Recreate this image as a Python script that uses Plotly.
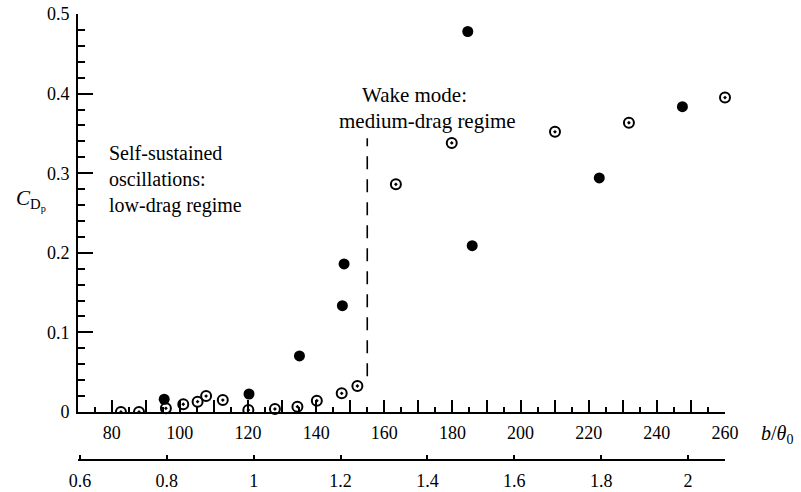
import numpy as np
import plotly.graph_objects as go

# ---- data ----
filled_x = [95.4, 120.3, 135.1, 147.7, 148.2, 184.5, 185.8, 223.1, 247.5]
filled_y = [0.016, 0.0226, 0.0704, 0.1335, 0.186, 0.478, 0.209, 0.294, 0.3835]

open_x = [82.7, 88.0, 95.9, 101.0, 105.2, 107.7, 112.6, 120.1, 127.9, 134.5,
          140.2, 147.5, 152.1, 163.4, 179.8, 210.1, 231.8, 260.0]
open_y = [0.0, 0.0, 0.0046, 0.0097, 0.013, 0.020, 0.015, 0.0025, 0.0038, 0.0067,
          0.0142, 0.0235, 0.0327, 0.286, 0.338, 0.352, 0.3634, 0.395]

divider_x = [155.0, 155.0]
divider_y = [0.045, 0.344]

x_tickvals = [80, 90, 100, 110, 120, 130, 140, 150, 160, 170, 180, 190, 200,
              210, 220, 230, 240, 250, 260]
x_ticktext = ["80", "", "100", "", "120", "", "140", "", "160", "", "180", "",
              "200", "", "220", "", "240", "", "260"]
y_tickvals = [0, 0.1, 0.2, 0.3, 0.4, 0.5]
y_ticktext = ["0", "0.1", "0.2", "0.3", "0.4", "0.5"]
x2_tickvals = [0.6, 0.8, 1.0, 1.2, 1.4, 1.6, 1.8, 2.0]
x2_ticktext = ["0.6", "0.8", "1", "1.2", "1.4", "1.6", "1.8", "2"]

FONT = "Liberation Serif"
W, H = 801, 492
ML, MR, MT, MB = 78, 76, 14, 32
PW, PH = W - ML - MR, H - MT - MB
AXIS_BOTTOM_PX = 412  # pixel row of the main x axis


def px_x(px):
    return (px - ML) / PW


def px_y(py):
    return (H - MB - py) / PH


ox = np.array(open_x)
oy = np.array(open_y)
on_axis = oy < 0.003

fig = go.Figure()

fig.add_trace(go.Scatter(
    x=divider_x, y=divider_y, mode="lines",
    line=dict(color="black", width=1.6, dash="13px,10px"),
    hoverinfo="skip", showlegend=False))

fig.add_trace(go.Scatter(
    x=ox[on_axis], y=oy[on_axis], mode="markers", cliponaxis=True,
    marker=dict(symbol="circle-open-dot", size=10, color="black",
                line=dict(color="black", width=2)),
    showlegend=False))
fig.add_trace(go.Scatter(
    x=ox[~on_axis], y=oy[~on_axis], mode="markers", cliponaxis=False,
    marker=dict(symbol="circle-open-dot", size=10, color="black",
                line=dict(color="black", width=2)),
    showlegend=False))
fig.add_trace(go.Scatter(
    x=filled_x, y=filled_y, mode="markers", cliponaxis=False,
    marker=dict(symbol="circle", size=11, color="black"),
    showlegend=False))

# invisible trace so the second (lower) x axis is drawn
fig.add_trace(go.Scatter(
    x=[1.0], y=[-1], xaxis="x2", yaxis="y", mode="markers",
    marker=dict(opacity=0), hoverinfo="skip", showlegend=False))

tickfont = dict(family=FONT, size=18, color="black")
ydom0 = (H - MB - AXIS_BOTTOM_PX) / PH

fig.update_layout(
    width=W, height=H,
    margin=dict(l=ML, r=MR, t=MT, b=MB, autoexpand=False),
    paper_bgcolor="white", plot_bgcolor="rgba(0,0,0,0)",
    xaxis=dict(range=[70.1, 260], domain=[0, 1], anchor="y", automargin=False,
               showline=True, linecolor="black", linewidth=2,
               showgrid=False, zeroline=False,
               ticks="inside", ticklen=12, tickwidth=1.5, tickcolor="black",
               ticklabelstandoff=3,
               tickvals=x_tickvals, ticktext=x_ticktext, tickfont=tickfont,
               minor=dict(dtick=5, tick0=0, ticks="inside", ticklen=5,
                          tickwidth=1.5, tickcolor="black")),
    yaxis=dict(range=[0, 0.5], domain=[ydom0, 1], anchor="x", automargin=False,
               showline=True, linecolor="black", linewidth=2,
               showgrid=False, zeroline=False,
               ticks="inside", ticklen=15, tickwidth=1.5, tickcolor="black",
               ticklabelstandoff=3,
               tickvals=y_tickvals, ticktext=y_ticktext, tickfont=tickfont,
               minor=dict(dtick=0.02, tick0=0, ticks="inside", ticklen=7,
                          tickwidth=1.5, tickcolor="black")),
    xaxis2=dict(range=[0.5954, 2.085], domain=[0, 1], anchor="free",
                position=0, automargin=False,
                showline=True, linecolor="black", linewidth=2,
                showgrid=False, zeroline=False,
                ticks="inside", ticklen=4, tickwidth=1.5, tickcolor="black",
                ticklabelstandoff=4,
                tickvals=x2_tickvals, ticktext=x2_ticktext, tickfont=tickfont),
)

fig.add_annotation(
    xref="paper", yref="paper", x=px_x(107), y=px_y(180),
    xanchor="left", yanchor="middle", align="left", showarrow=False,
    text="Self-sustained<br>oscillations:<br>low-drag regime",
    font=dict(family=FONT, size=20, color="black"))
fig.add_annotation(
    xref="paper", yref="paper", x=px_x(414), y=px_y(95),
    xanchor="center", yanchor="middle", showarrow=False,
    text="Wake mode:", font=dict(family=FONT, size=21, color="black"))
fig.add_annotation(
    xref="paper", yref="paper", x=px_x(427), y=px_y(121),
    xanchor="center", yanchor="middle", showarrow=False,
    text="medium-drag regime", font=dict(family=FONT, size=21, color="black"))
fig.add_annotation(
    xref="paper", yref="paper", x=px_x(14), y=px_y(200),
    xanchor="left", yanchor="middle", showarrow=False,
    text="<i>C</i><sub>D<sub>p</sub></sub>",
    font=dict(family=FONT, size=21, color="black"))
fig.add_annotation(
    xref="paper", yref="paper", x=px_x(759), y=px_y(434),
    xanchor="left", yanchor="middle", showarrow=False,
    text="<i>b</i>/<i>θ</i><sub>0</sub>",
    font=dict(family=FONT, size=20, color="black"))

fig.write_html("out.html")
